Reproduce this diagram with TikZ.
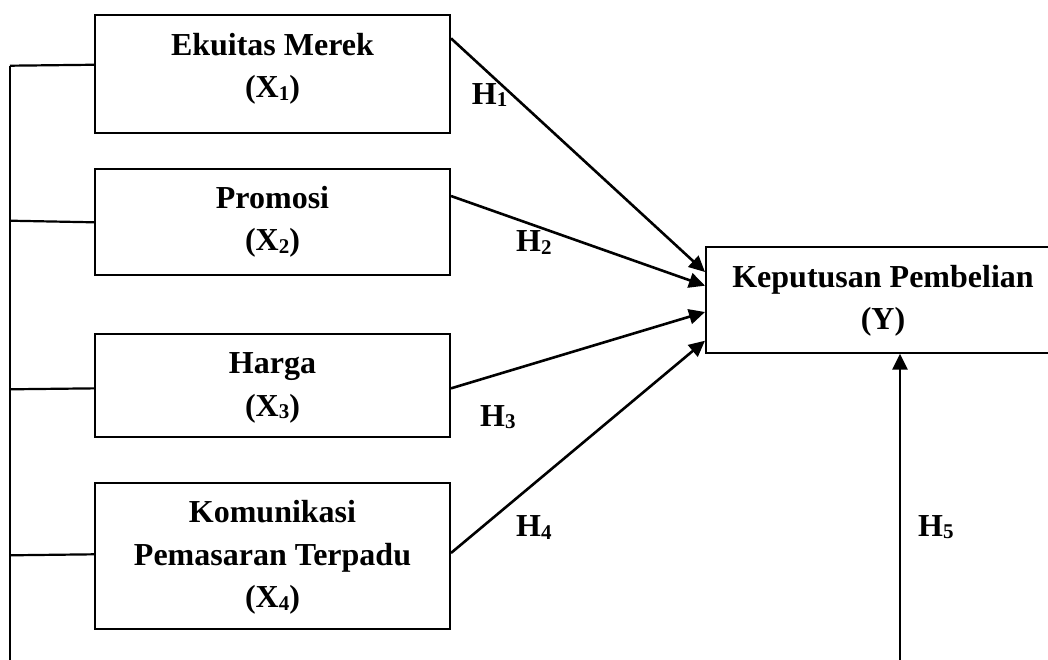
\documentclass[tikz,border=0pt]{standalone}
\usepackage{fontspec}
\setmainfont{Liberation Serif}
\usetikzlibrary{arrows.meta,calc}
\newcommand{\subs}[1]{\raisebox{-2.5pt}{\fontsize{21}{21}\selectfont #1}}
\tikzset{
  box/.style={draw, line width=2pt, rectangle, inner sep=0pt},
  txt/.style={align=center, inner sep=0pt, font=\fontsize{32}{42.5}\selectfont\bfseries},
  hyp/.style={anchor=base west, inner sep=0pt, font=\fontsize{32}{42.5}\selectfont\bfseries},
  arr/.style={line width=2.6pt, -{Triangle[length=16pt,width=15pt]}},
  link/.style={line width=2.2pt}
}
\begin{document}
\begin{tikzpicture}[x=1pt,y=-1pt]
\useasboundingbox (0,0) rectangle (1048,659);
% boxes
\node[box, minimum width=355pt, minimum height=118.3pt] (x1) at (272.5,74.2) {};
\node[box, minimum width=355pt, minimum height=105.4pt] (x2) at (272.5,222) {};
\node[box, minimum width=355pt, minimum height=103.3pt] (x3) at (272.5,385.7) {};
\node[box, minimum width=355pt, minimum height=146.6pt] (x4) at (272.5,556) {};
\node[box, minimum width=354pt, minimum height=106pt] (y) at (883,299.7) {};
% texts
\node[txt] (x1t) at (272.5,68.2) {\strut Ekuitas Merek\\\strut (X\subs{1})};
\node[txt] (x2t) at (272.5,221.2) {\strut Promosi\\\strut (X\subs{2})};
\node[txt] (x3t) at (272.5,386.5) {\strut Harga\\\strut (X\subs{3})};
\node[txt] (x4t) at (272.5,556.7) {\strut Komunikasi\\\strut Pemasaran Terpadu\\\strut (X\subs{4})};
\node[txt] (yt) at (883,299.8) {\strut Keputusan Pembelian\\\strut (Y)};
% hypothesis labels
\node[hyp] (h1) at (471.7,104) {H\subs{1}};
\node[hyp] (h2) at (516,251.7) {H\subs{2}};
\node[hyp] (h3) at (480,426) {H\subs{3}};
\node[hyp] (h4) at (516,536.7) {H\subs{4}};
\node[hyp] (h5) at (918,536) {H\subs{5}};
% arrows to Y
\draw[arr] ($(x1.north east)+(0,24.3)$) -- ($(y.north west)+(0,26.3)$);
\draw[arr] ($(x2.north east)+(0,27.7)$) -- ($(y.north west)+(0,40)$);
\draw[arr] ($(x3.north east)+(0,55.3)$) -- ($(y.north west)+(0,66.3)$);
\draw[arr] ($(x4.north east)+(0,71.3)$) -- ($(y.north west)+(0,95)$);
\coordinate (h5s) at (900,662);
\draw[arr] (h5s) -- (h5s |- y.south);
% left bracket
\coordinate (bl) at (10,662);
\coordinate (b1) at (10,65.7);
\coordinate (b2) at (10,220.7);
\coordinate (b3) at (10,389.3);
\coordinate (b4) at (10,555.3);
\draw[link] (b1) -- (bl);
\draw[link] (b1) -- ($(x1.north west)+(0,50.7)$);
\draw[link] (b2) -- ($(x2.north west)+(0,54)$);
\draw[link] (b3) -- ($(x3.north west)+(0,55.3)$);
\draw[link] (b4) -- ($(x4.north west)+(0,72.6)$);
\end{tikzpicture}
\end{document}
